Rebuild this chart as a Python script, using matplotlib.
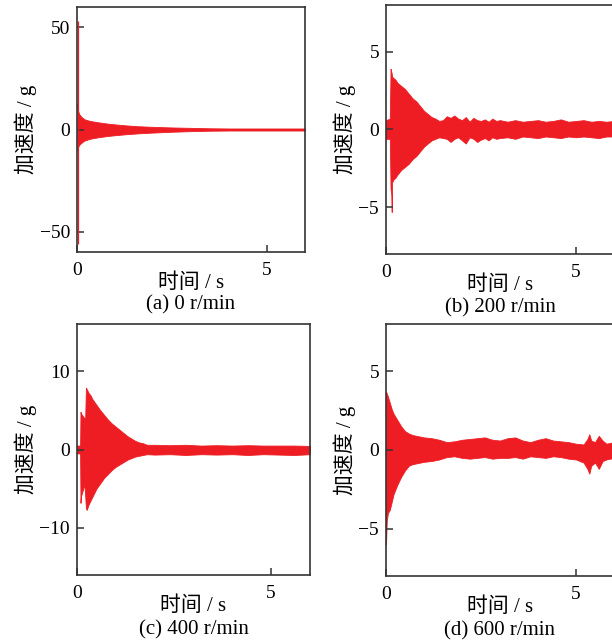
import matplotlib
matplotlib.use("Agg")
import matplotlib.pyplot as plt
import numpy as np

# envelope of the vibration signals (g)
t_a = [0.01, 0.03, 0.06, 0.1, 0.15, 0.2, 0.3, 0.4, 0.6, 0.8, 1.0, 1.3, 1.6, 2.0, 2.5, 3.0, 3.5, 4.0, 5.0, 6.0]
up_a = [12.5, 9.0, 7.5, 6.5, 5.6, 5.0, 4.4, 4.0, 3.4, 2.9, 2.5, 2.0, 1.6, 1.3, 1.0, 0.8, 0.6, 0.5, 0.5, 0.5]
lo_a = [-10.0, -8.5, -7.5, -6.8, -6.0, -5.4, -4.8, -4.3, -3.7, -3.2, -2.8, -2.3, -1.9, -1.5, -1.1, -0.8, -0.6, -0.5, -0.5, -0.5]
spike_t = 0.02
spike_a = [-56.0, 53.0]  # impact spike at the start

t_b = [0.0, 0.1, 0.12, 0.14, 0.15, 0.16, 0.2, 0.25, 0.3, 0.4, 0.5, 0.6, 0.7, 0.8, 0.9, 1.0, 1.1, 1.2, 1.3,
       1.4, 1.5, 1.6, 1.7, 1.8, 1.9, 2.0, 2.1, 2.2, 2.3, 2.4, 2.5, 2.6, 2.7, 2.8, 2.9, 3.0, 3.2, 3.4, 3.6,
       3.8, 4.0, 4.2, 4.4, 4.6, 4.8, 5.0, 5.2, 5.4, 5.6, 5.8, 6.0]
up_b = [0.6, 0.7, 3.9, 3.7, 3.6, 3.4, 3.3, 3.2, 3.0, 2.8, 2.6, 2.3, 2.0, 1.8, 1.5, 1.2, 1.0, 0.8, 0.7,
        0.55, 0.6, 0.85, 0.75, 0.9, 0.7, 0.6, 0.8, 0.5, 0.75, 0.6, 0.55, 0.65, 0.5, 0.7, 0.55, 0.6, 0.5,
        0.6, 0.5, 0.55, 0.6, 0.5, 0.55, 0.65, 0.5, 0.55, 0.6, 0.5, 0.55, 0.5, 0.55]
lo_b = [-0.6, -0.6, -3.8, -4.2, -5.3, -3.4, -3.2, -3.1, -2.9, -2.6, -2.4, -2.2, -1.9, -1.7, -1.4, -1.1, -0.9, -0.7, -0.6,
        -0.5, -0.55, -0.6, -0.8, -0.6, -0.5, -0.7, -0.9, -0.5, -0.6, -0.8, -0.65, -0.55, -0.7, -0.5, -0.6, -0.55, -0.5,
        -0.6, -0.45, -0.5, -0.55, -0.45, -0.5, -0.55, -0.45, -0.5, -0.45, -0.5, -0.55, -0.45, -0.45]

t_c = [0.0, 0.08, 0.09, 0.1, 0.13, 0.16, 0.19, 0.21, 0.23, 0.25, 0.3, 0.35, 0.4, 0.5, 0.6, 0.7, 0.8, 0.9, 1.0,
       1.1, 1.2, 1.3, 1.4, 1.5, 1.6, 1.7, 1.8, 2.0, 2.4, 2.8, 3.2, 3.6, 4.0, 4.4, 4.8, 5.2, 5.6, 6.0]
up_c = [0.5, 0.5, 4.8, 4.6, 4.4, 4.2, 4.0, 3.8, 7.9, 7.7, 7.2, 6.9, 6.4, 5.7, 5.0, 4.4, 3.8, 3.3, 2.9,
        2.5, 2.1, 1.7, 1.4, 1.1, 0.9, 0.8, 0.6, 0.6, 0.55, 0.6, 0.5, 0.55, 0.5, 0.55, 0.5, 0.5, 0.5, 0.45]
lo_c = [-0.5, -0.5, -6.8, -6.0, -5.5, -5.0, -4.5, -5.8, -7.5, -7.7, -7.0, -6.5, -6.0, -5.0, -4.3, -3.6, -3.1, -2.6, -2.2,
        -1.9, -1.6, -1.3, -1.1, -0.9, -0.8, -0.7, -0.6, -0.65, -0.6, -0.7, -0.6, -0.65, -0.6, -0.7, -0.6, -0.65, -0.7, -0.6]

t_d = [0.0, 0.02, 0.05, 0.1, 0.15, 0.2, 0.3, 0.4, 0.5, 0.6, 0.7, 0.8, 1.0, 1.2, 1.4, 1.6, 1.8, 2.0, 2.2, 2.4,
       2.6, 2.8, 3.0, 3.2, 3.4, 3.6, 3.8, 4.0, 4.2, 4.4, 4.6, 4.8, 5.0, 5.2, 5.3, 5.35, 5.4, 5.5, 5.6, 5.7, 5.8, 6.0]
up_d = [3.7, 3.6, 3.4, 3.0, 2.6, 2.3, 1.9, 1.5, 1.2, 1.05, 0.95, 0.9, 0.8, 0.75, 0.65, 0.5, 0.55, 0.65, 0.7, 0.75,
        0.8, 0.65, 0.6, 0.75, 0.8, 0.6, 0.5, 0.65, 0.75, 0.6, 0.55, 0.5, 0.4, 0.35, 0.7, 1.0, 0.6, 0.5, 0.9, 0.6, 0.4, 0.5]
lo_d = [-6.0, -4.5, -4.0, -3.8, -3.3, -2.8, -2.2, -1.7, -1.3, -1.0, -0.9, -0.85, -0.75, -0.7, -0.6, -0.45, -0.4, -0.5, -0.55, -0.5,
        -0.45, -0.55, -0.5, -0.5, -0.45, -0.55, -0.4, -0.45, -0.5, -0.4, -0.45, -0.55, -0.6, -0.8, -1.2, -1.5, -1.0, -0.8, -1.2, -0.7, -0.6, -0.5]

captions = ["(a) 0 r/min", "(b) 200 r/min", "(c) 400 r/min", "(d) 600 r/min"]
ylims = [60, 8, 16, 8]
yticks = [[-50, 0, 50], [-5, 0, 5], [-10, 0, 10], [-5, 0, 5]]

RED = "#ee1d23"
FAM = ["Liberation Serif", "Noto Sans CJK SC"]
plt.rcParams.update({
    "font.family": FAM,
    "font.size": 15,
    "axes.linewidth": 1.2,
    "axes.edgecolor": "#333333",
})

fig = plt.figure(figsize=(6.12, 6.43), dpi=100)
W, H = 612.0, 643.0
# axes boxes in pixels: left, top, right, bottom
boxes = [(77, 7, 305, 252), (386, 5, 614, 254), (77, 324, 310, 575), (386, 324, 614, 576)]
series = [(t_a, up_a, lo_a), (t_b, up_b, lo_b), (t_c, up_c, lo_c), (t_d, up_d, lo_d)]

for i, (l, tp, r, b) in enumerate(boxes):
    ax = fig.add_axes([l / W, 1 - b / H, (r - l) / W, (b - tp) / H])
    t, up, lo = series[i]
    ax.fill_between(t, lo, up, color=RED, linewidth=0.6, edgecolor=RED)
    if i == 0:
        ax.vlines(spike_t, spike_a[0], spike_a[1], color=RED, linewidth=0.9)
    ax.set_xlim(0, 6)
    ax.set_ylim(-ylims[i], ylims[i])
    ax.set_xticks([0, 5])
    ax.set_yticks(yticks[i])
    ax.set_yticklabels([str(v).replace("-", "\u2212") for v in yticks[i]])
    ax.tick_params(direction="in", length=5, width=1.1, color="#333333", labelsize=14,
                   top=False, right=False)
    ax.tick_params(axis="x", pad=7)
    ax.tick_params(axis="y", pad=5)
    ax.set_xlabel("时间 / s", fontsize=15, labelpad=-4)
    ax.set_ylabel("加速度 / g", fontsize=15, labelpad=2)
    # caption placed by its baseline so it sits just under the x label
    ax.text(0.5, -0.235, captions[i], transform=ax.transAxes, ha="center", va="baseline", fontsize=15)

fig.savefig("out.png", dpi=100)
